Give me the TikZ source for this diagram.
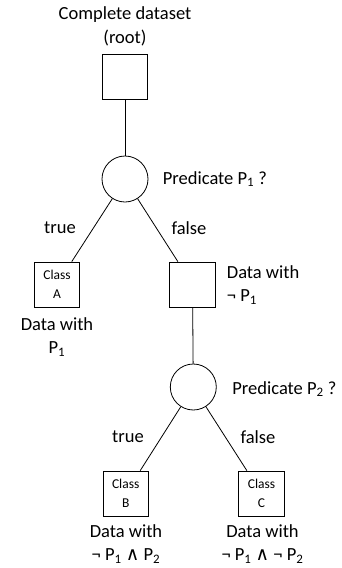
\documentclass[tikz,border=0pt]{standalone}
\usepackage{fontspec}
\setmainfont{Carlito}
\newfontfamily\symfont{DejaVu Sans}
\usetikzlibrary{positioning}
\newcommand{\andsym}{{\symfont ∧}}
\begin{document}
\begin{tikzpicture}[x=1pt,y=-1pt,line width=0.8pt,
set/.style = {draw, rectangle, minimum width = 45.5pt, minimum height = 45pt, inner sep = 0pt, font=\fontsize{13.5}{19}\selectfont, align=center},
test/.style = {draw, circle, minimum size = 46pt, inner sep = 0pt},
txt/.style = {font=\fontsize{18.5}{23.5}\selectfont, align=center, inner sep = 0pt},]
\useasboundingbox (0,0) rectangle (341,568);
\node (root) at (125,77)[set] {};
\node (P1) at (125,179)[test] {};
\node (A) at (57,284.5)[set] {Class\\A};
\node (N1) at (192.5,284.5)[set] {};
\node (P2) at (193.3,387)[test] {};
\node (B) at (125.7,493.5)[set] {Class\\B};
\node (C) at (261.5,493.5)[set] {Class\\C};
\draw (root) -- (P1);
\draw (P1) -- (A);
\draw (P1) -- (N1);
\draw (N1) -- (P2);
\draw (P2) -- (B);
\draw (P2) -- (C);
% labels
\node (rootlbl) at (125,26.5)[txt] {Complete dataset\\(root)};
\node (q1) at (162.5,179)[txt,anchor=west] {Predicate P\textsubscript{1} ?};
\node (q2) at (232,389)[txt,anchor=west] {Predicate P\textsubscript{2} ?};
\node (t1) at (60,228)[txt] {true};
\node (f1) at (189,228)[txt] {false};
\node (t2) at (128,437)[txt] {true};
\node (f2) at (258,437)[txt] {false};
\node (dA) at (57,337)[txt] {Data with\\P\textsubscript{1}};
\node (dN1) at (226.5,285)[txt,anchor=west,align=left] {Data with\\¬ P\textsubscript{1}};
\node (dB) at (126,544)[txt] {Data with\\¬ P\textsubscript{1} \andsym{} P\textsubscript{2}};
\node (dC) at (262.5,544)[txt] {Data with\\¬ P\textsubscript{1} \andsym{} ¬ P\textsubscript{2}};
\end{tikzpicture}
\end{document}
